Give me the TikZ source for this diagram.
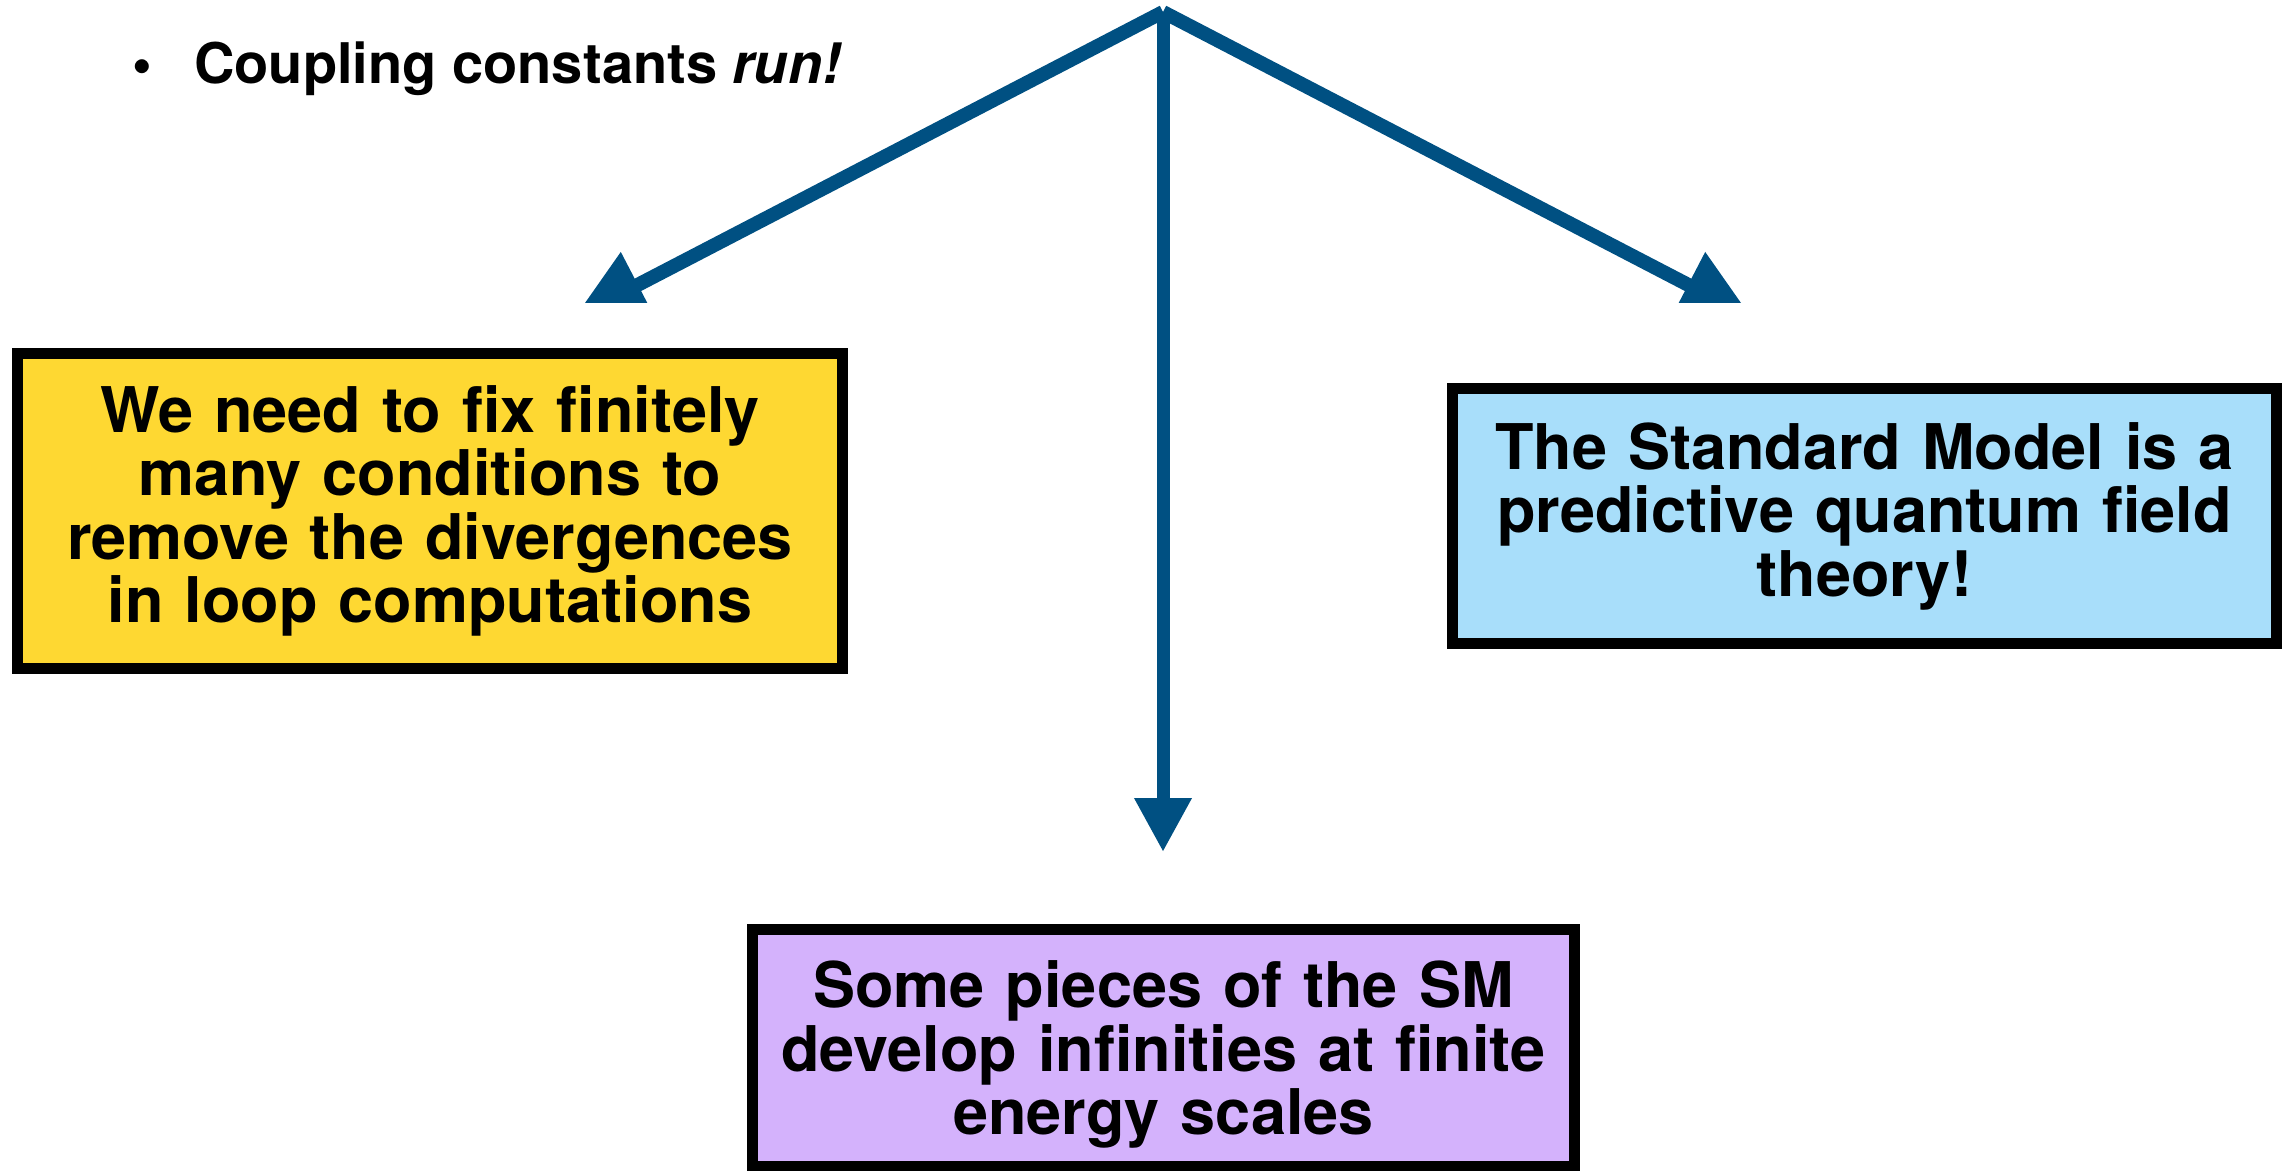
\documentclass[tikz,border=0pt]{standalone}
\usepackage{fontspec}
\setmainfont{TeX Gyre Heros}
\usetikzlibrary{arrows.meta}
\definecolor{arrowblue}{RGB}{0,80,130}
\definecolor{boxyellow}{RGB}{254,216,50}
\definecolor{boxblue}{RGB}{168,222,250}
\definecolor{boxpurple}{RGB}{212,178,252}
\begin{document}
\begin{tikzpicture}[x=1pt,y=-1pt,
  box/.style={draw=black, line width=11pt, inner sep=0pt, align=center,
    font=\bfseries\fontsize{63}{63.5}\selectfont},
  flow/.style={draw=arrowblue, line width=13pt},
  diagflow/.style={draw=arrowblue, line width=14pt},
  diagtip/.style={-{Triangle[length=72pt,width=70pt]}},
  downtip/.style={-{Triangle[length=54pt,width=54pt]}}
  ]
\useasboundingbox (0,0) rectangle (2285,1170);

\node[anchor=base west, inner sep=0pt, font=\bfseries\fontsize{56}{60}\selectfont] (title) at (194,83)
  {\llap{\textbullet\hspace{42pt}}Coupling constants \textit{run!}};

\node[box, fill=boxyellow, minimum width=825pt, minimum height=315pt, text width=810pt] (fix) at (430,511)
  {We need to fix finitely\\many conditions to\\remove the divergences\\in loop computations};
\node[box, fill=boxblue, minimum width=824pt, minimum height=255pt, text width=810pt] (sm) at (1864.5,516)
  {The Standard Model is a\\predictive quantum field\\theory!};
\node[box, fill=boxpurple, minimum width=822pt, minimum height=237pt, text width=810pt] (inf) at (1163.5,1048)
  {\rule{0pt}{60pt}Some pieces of the SM\\develop infinities at finite\\energy scales};

\coordinate (apex) at (1163,12);
\coordinate (ltip) at (574,318);
\coordinate (rtip) at (1752,318);
\coordinate (dtip) at (1163,852);

\begin{scope}
  \clip (0,0) rectangle (2285,302);
  \draw[diagflow, diagtip] (apex) -- (ltip);
  \draw[diagflow, diagtip] (apex) -- (rtip);
\end{scope}
\draw[flow, downtip] (apex) -- (dtip);
\end{tikzpicture}
\end{document}
